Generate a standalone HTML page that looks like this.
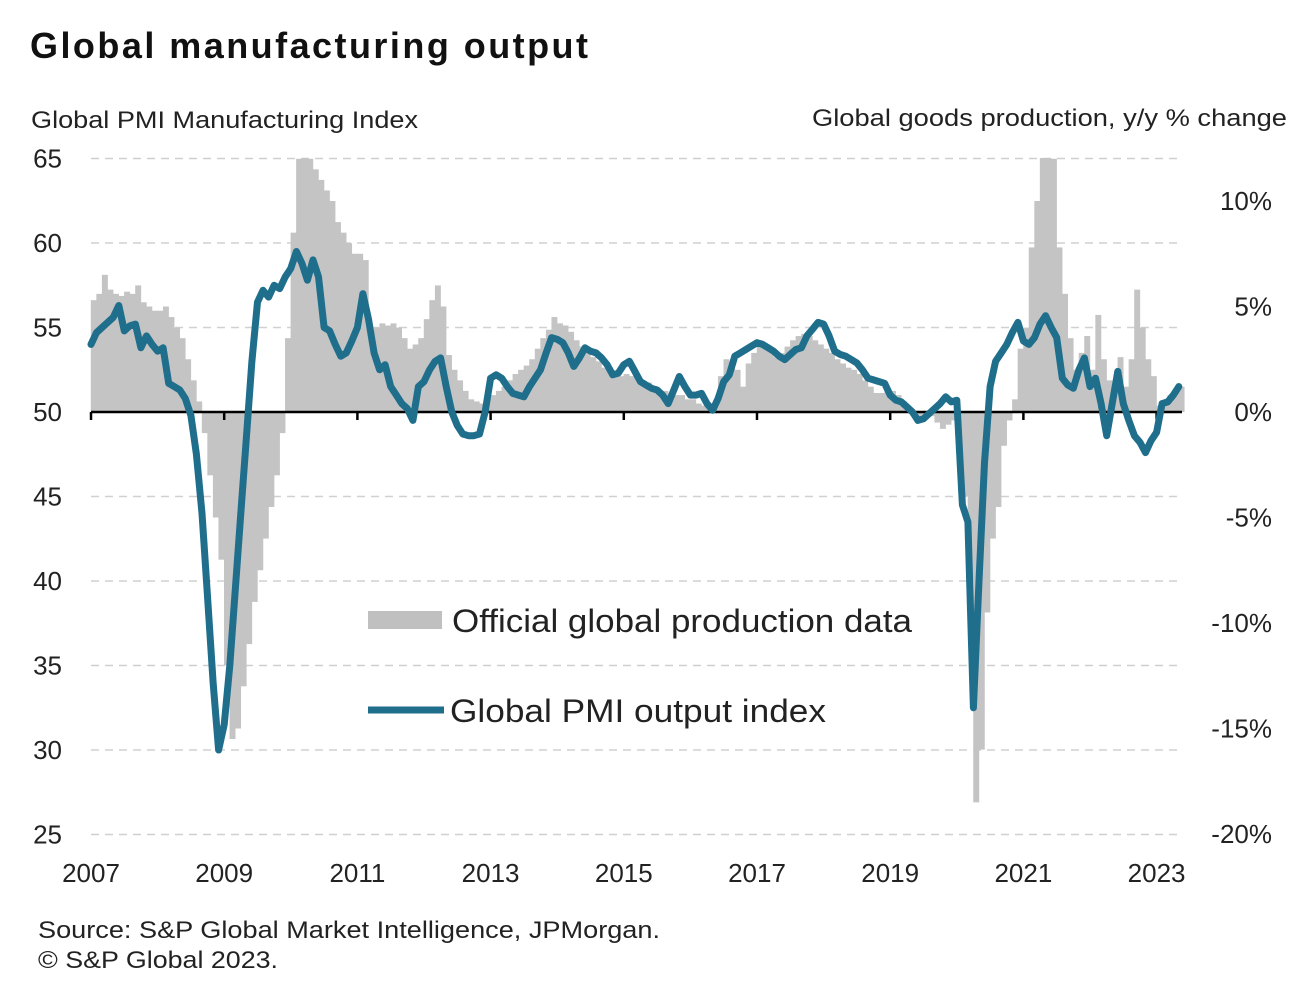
<!DOCTYPE html>
<html><head><meta charset="utf-8"><style>
body{margin:0;background:#fff;}
svg{display:block;font-family:"Liberation Sans",Arial,sans-serif;}
</style></head><body>
<svg id="chart" width="1316" height="1002" viewBox="0 0 1316 1002">
<text x="30" y="58" font-size="36" font-weight="bold" fill="#111" textLength="558" lengthAdjust="spacing">Global  manufacturing  output</text>
<text x="31" y="128" font-size="24" fill="#222" textLength="387" lengthAdjust="spacingAndGlyphs">Global PMI Manufacturing Index</text>
<text x="812" y="126" font-size="24" fill="#222" textLength="475" lengthAdjust="spacingAndGlyphs">Global goods production, y/y % change</text>
<g id="grid"></g><g id="bars"></g><g id="axis"></g><g id="line"></g><g id="labels"></g>
<g>
<rect x="368" y="611" width="74" height="18" fill="#c0c0c0"/>
<text x="452" y="632" font-size="32" fill="#222" textLength="460" lengthAdjust="spacingAndGlyphs">Official global production data</text>
<line x1="368" y1="710" x2="444" y2="710" stroke="#1f6e8c" stroke-width="7"/>
<text x="450" y="722" font-size="32" fill="#222" textLength="376" lengthAdjust="spacingAndGlyphs">Global PMI output index</text>
</g>
<text x="38" y="938" font-size="24" fill="#222" textLength="622" lengthAdjust="spacingAndGlyphs">Source: S&amp;P Global Market Intelligence, JPMorgan.</text>
<text x="38" y="968" font-size="24" fill="#222" textLength="240" lengthAdjust="spacingAndGlyphs">© S&amp;P Global 2023.</text>
</svg>
<script>
const leftTicks=[65,60,55,50,45,40,35,30,25];
const rightTicks=["10%","5%","0%","-5%","-10%","-15%","-20%"];
const rightTickValues=[10,5,0,-5,-10,-15,-20];
const yearLabels=["2007","2009","2011","2013","2015","2017","2019","2021","2023"];
const pmi=[54,54.7,55,55.3,55.6,56.3,54.8,55.1,55.2,53.8,54.5,54,
53.6,53.8,51.7,51.5,51.3,50.8,49.8,47.5,44,39,34,30,
31.5,35,39.5,44,48.5,53,56.5,57.2,56.8,57.5,57.3,58,
58.5,59.5,58.8,57.8,59,58,55,54.8,54,53.3,53.5,54.2,
55,57,55.5,53.5,52.5,52.8,51.5,51,50.5,50.2,49.5,51.5,
51.8,52.5,53,53.2,51.5,50,49.2,48.7,48.6,48.6,48.7,50,
52,52.2,52,51.5,51.1,51,50.9,51.5,52,52.5,53.5,54.4,
54.3,54.1,53.5,52.7,53.2,53.8,53.6,53.5,53.2,52.8,52.2,52.3,
52.8,53,52.4,51.8,51.6,51.4,51.3,51,50.5,51.3,52.1,51.5,
51,51,51.1,50.5,50.1,50.8,51.8,52.2,53.3,53.5,53.7,53.9,
54.1,54,53.8,53.6,53.3,53.1,53.4,53.7,53.8,54.5,54.9,55.3,
55.2,54.5,53.6,53.4,53.3,53.1,52.9,52.5,52,51.9,51.8,51.7,
51,50.7,50.6,50.3,50,49.5,49.6,49.9,50.2,50.5,50.9,50.6,
50.7,44.5,43.5,32.5,40,47,51.5,53,53.5,54,54.7,55.3,
54.2,54,54.4,55.2,55.7,55,54.4,52,51.6,51.4,52.5,53.2,
51.5,52,50.5,48.6,50.5,52.4,50.5,49.5,48.6,48.2,47.6,48.3,
48.8,50.5,50.6,51,51.5];
const production=[5.3,5.6,6.5,5.8,5.6,5.5,5.7,5.6,6,5.2,5.0,4.8,
4.8,5,4.5,4.0,3.5,2.5,1.5,0.5,-1,-3,-5,-7,
-12,-15.5,-15,-13,-11,-9,-7.5,-6,-4.5,-3,-1,3.5,
8.5,12,12.5,12,11.5,11,10.5,10,9,8.5,8,7.5,
7.5,7.2,3.6,4,4.2,4.1,4.2,4,3.5,3,3.2,3.5,
4.4,5.3,6,5,2.7,2,1.5,1,0.6,0.5,0.4,0.6,
0.8,1,1.2,1.5,1.8,2,2.2,2.5,3,3.5,3.9,4.5,
4.2,4.1,3.8,3.4,3.1,2.9,2.6,2.4,2.1,1.9,1.7,1.7,
1.8,1.7,1.6,1.5,1.4,1.2,1,1,0.9,0.8,0.8,0.6,
0.6,0.4,0.3,0.2,0.3,1.7,2.5,2.2,2,1.2,2.3,2.8,
3.4,3.2,3,2.6,2.8,3.1,3.4,3.6,3.7,3.6,3.4,3.2,
3,2.8,2.5,2.3,2.1,2,1.8,1.5,1.2,0.9,0.9,1,
1,0.8,0.5,0.2,0,-0.2,-0.3,-0.2,-0.5,-0.8,-0.6,-0.4,
-1.5,-4,-8,-18.5,-16,-9.5,-6,-4.5,-1.6,-0.4,0.6,3,
4,7.8,10,13,13,12,7.8,5.6,3.5,2,2.8,3.6,
2,4.6,2.5,1.5,1.2,2.6,1.2,2.5,5.8,4,2.5,1.7,
0.3,0.5,0.8,1,1.2];

const NS="http://www.w3.org/2000/svg";
const X0=91, MPX=66.6/12, TOP=158, BOT=834;
const x=i=>X0+i*MPX;
const yL=v=>412-(v-50)*16.9;
const yR=p=>412-p*21.1;
function mk(tag,attrs,parent){const e=document.createElementNS(NS,tag);for(const k in attrs)e.setAttribute(k,attrs[k]);parent.appendChild(e);return e;}
const grid=document.getElementById('grid'),bars=document.getElementById('bars'),axis=document.getElementById('axis'),line=document.getElementById('line'),labels=document.getElementById('labels');

leftTicks.forEach(v=>{
  if(v!==50){const g=mk('line',{x1:91,x2:1180,y1:yL(v),y2:yL(v),stroke:'#d0d0d0','stroke-width':1.5,'stroke-dasharray':'8 6'},grid);
  
  }
  const t=mk('text',{x:62,y:yL(v)+9,'font-size':26,fill:'#222','text-anchor':'end'},labels);
  t.textContent=v;
  
  
});
rightTicks.forEach((s,i)=>{
  const t=mk('text',{x:1272,y:yR(rightTickValues[i])+9,'font-size':26,fill:'#222','text-anchor':'end'},labels);
  t.textContent=s;
  
  
});
production.forEach((p,i)=>{
  let y1=yR(p), y0=yR(0);
  y1=Math.max(TOP,Math.min(BOT,y1));
  const r=mk('rect',{x:x(i)-0.2,y:Math.min(y0,y1),width:MPX+0.4,height:Math.abs(y1-y0),fill:'#c4c4c4'},bars);
  
  
});
const ax=mk('line',{x1:91,x2:1182,y1:412,y2:412,stroke:'#000','stroke-width':2.5},axis);


yearLabels.forEach((s,k)=>{
  const xx=x(k*24);
  const tk=mk('line',{x1:xx,x2:xx,y1:412,y2:420,stroke:'#000','stroke-width':2.5},axis);
  
  
  const t=mk('text',{x:xx,y:882,'font-size':26,fill:'#222','text-anchor':'middle'},labels);
  t.textContent=s;
  
  
});
const pts=pmi.map((v,i)=>x(i).toFixed(1)+','+yL(v).toFixed(1)).join(' ');
const pl=mk('polyline',{points:pts,fill:'none',stroke:'#1f6e8c','stroke-width':7,'stroke-linejoin':'round','stroke-linecap':'round'},line);


</script>
</body></html>
